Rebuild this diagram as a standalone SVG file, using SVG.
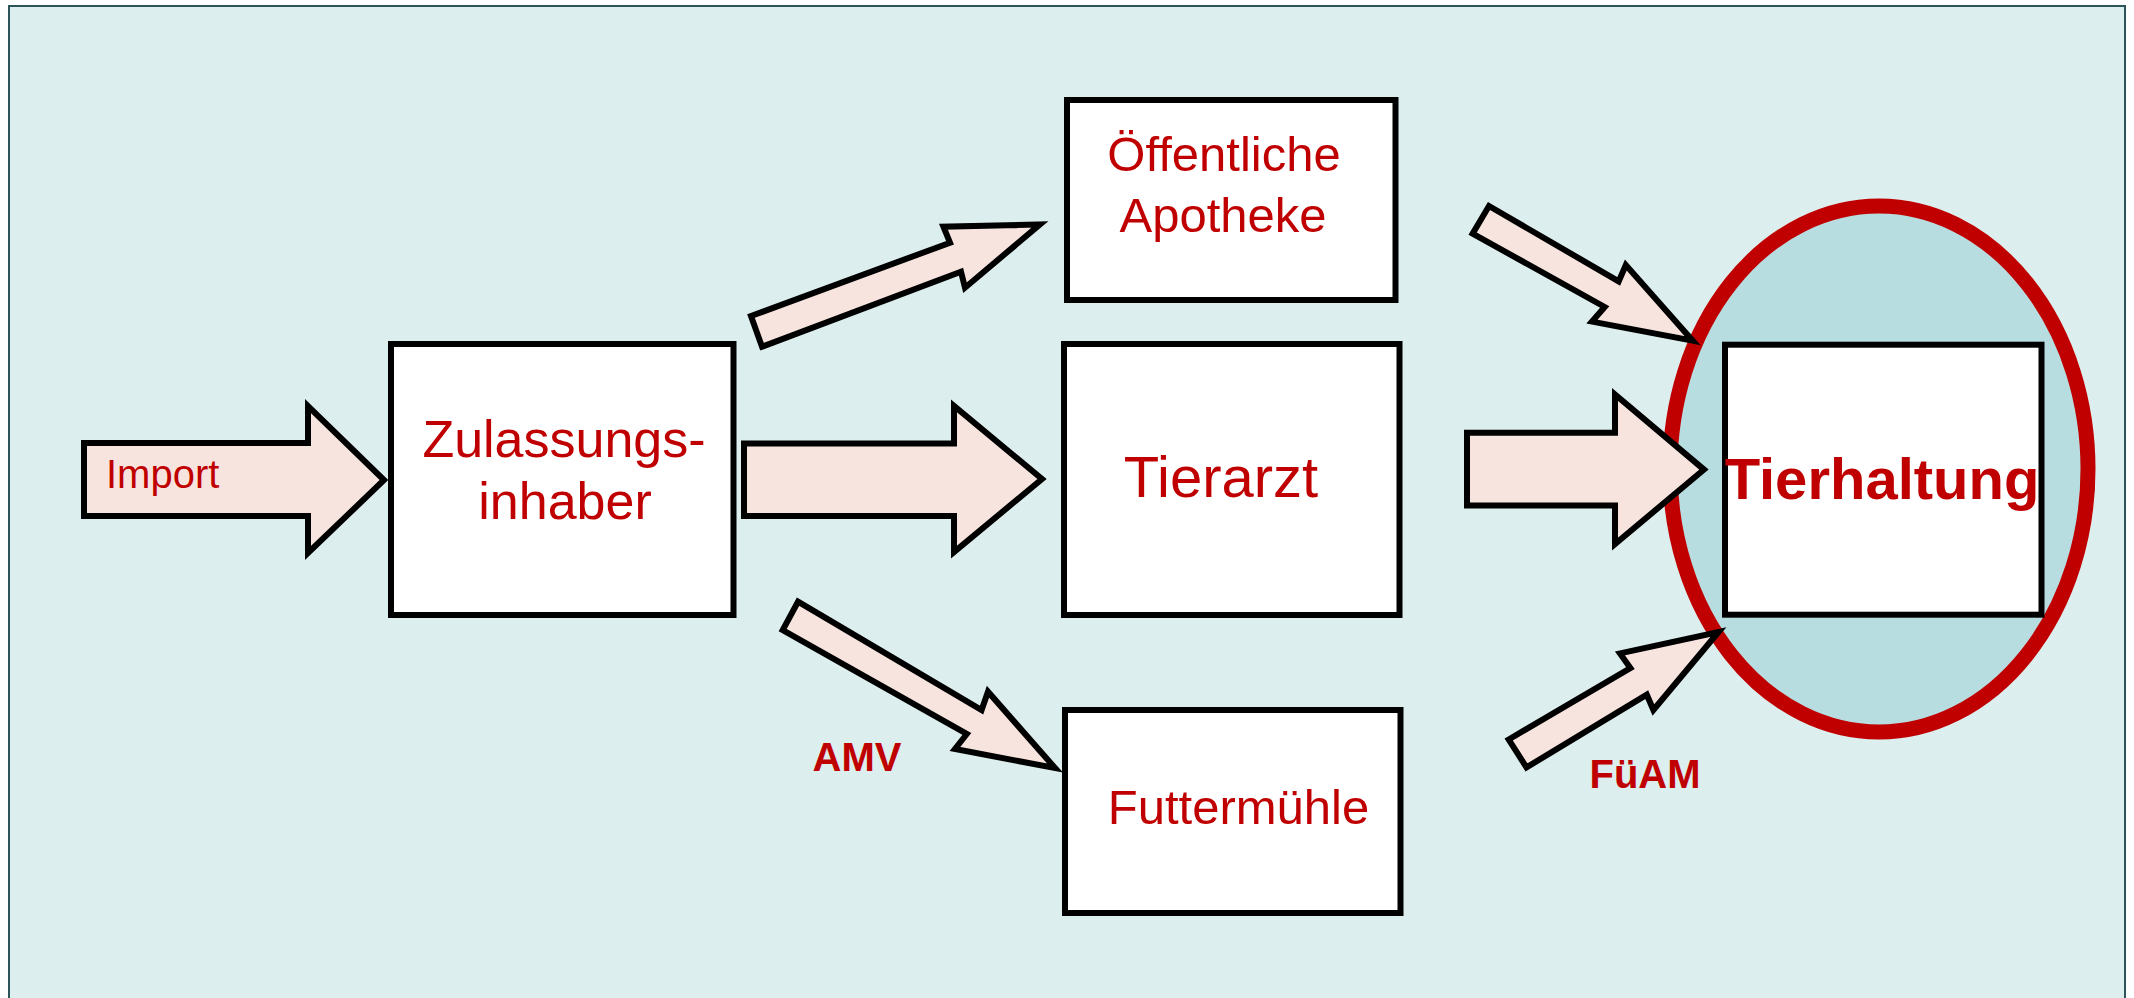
<svg xmlns="http://www.w3.org/2000/svg" width="2134" height="998" viewBox="0 0 2134 998">
<defs>
<style>
.box{fill:#FFFFFF;stroke:#000000;stroke-width:6}
.arr{fill:#F8E4DF;stroke:#000000;stroke-width:6;stroke-linejoin:miter}
.t{font-family:"Liberation Sans",Arial,Helvetica,sans-serif;fill:#C00000;text-anchor:middle}
.tb{font-family:"Liberation Sans",Arial,Helvetica,sans-serif;fill:#C00000;font-weight:bold;text-anchor:middle}
</style>
</defs>
<rect x="9" y="6" width="2116" height="995" fill="#DDEEEE" stroke="#2B5559" stroke-width="2"/>

<g id="node-tierhaltung">
<ellipse cx="1879" cy="469" rx="209" ry="263" fill="#B8DDE1" stroke="#C00000" stroke-width="15"/>
<rect class="box" x="1725" y="344.7" width="316.5" height="270"/>
<text class="tb" x="1882" y="499" font-size="58">Tierhaltung</text>
</g>

<g id="node-zulassungsinhaber">
<rect class="box" x="391" y="344" width="342.5" height="271"/>
<text class="t" x="564" y="457" font-size="52">Zulassungs-</text>
<text class="t" x="565" y="519" font-size="52">inhaber</text>
</g>

<g id="node-apotheke">
<rect class="box" x="1067" y="100" width="328.5" height="200"/>
<text class="t" x="1224" y="171" font-size="49">Öffentliche</text>
<text class="t" x="1223" y="231.5" font-size="49">Apotheke</text>
</g>

<g id="node-tierarzt">
<rect class="box" x="1064" y="344" width="335.5" height="271"/>
<text class="t" x="1221" y="497" font-size="58">Tierarzt</text>
</g>

<g id="node-futtermuehle">
<rect class="box" x="1065" y="710" width="335.5" height="203"/>
<text class="t" x="1238.5" y="824" font-size="49">Futtermühle</text>
</g>

<g id="connectors">
<polygon class="arr" points="84,443 308,443 308,406 384,480 308,553 308,516 84,516"/>
<polygon class="arr" points="744,443.5 954,443.5 954,406 1042,479 954,552 954,516 744,516"/>
<polygon class="arr" points="751,316 950,242.7 943.4,226.7 1040,224.4 965,287.7 961,271.7 762,346.7"/>
<polygon class="arr" points="798,601.7 981.6,710 988,691.7 1055,768 955,749 966.8,734 782.7,630"/>
<polygon class="arr" points="1489,206 1618.7,281.4 1625.8,265 1692.7,340.7 1592,321.6 1604.7,307 1472.6,233.6"/>
<polygon class="arr" points="1467,432.7 1615,432.7 1615,394.5 1704,469.6 1615,544 1615,505.5 1467,505.5"/>
<polygon class="arr" points="1508.7,739.5 1630.4,668 1620,653.4 1718.5,632 1653.4,710 1646.8,694.7 1526.5,767.4"/>
</g>

<g id="labels">
<text class="t" x="106" y="488" font-size="40" style="text-anchor:start">Import</text>
<text class="tb" x="857" y="771" font-size="40">AMV</text>
<text class="tb" x="1645" y="788" font-size="40">FüAM</text>
</g>
</svg>
